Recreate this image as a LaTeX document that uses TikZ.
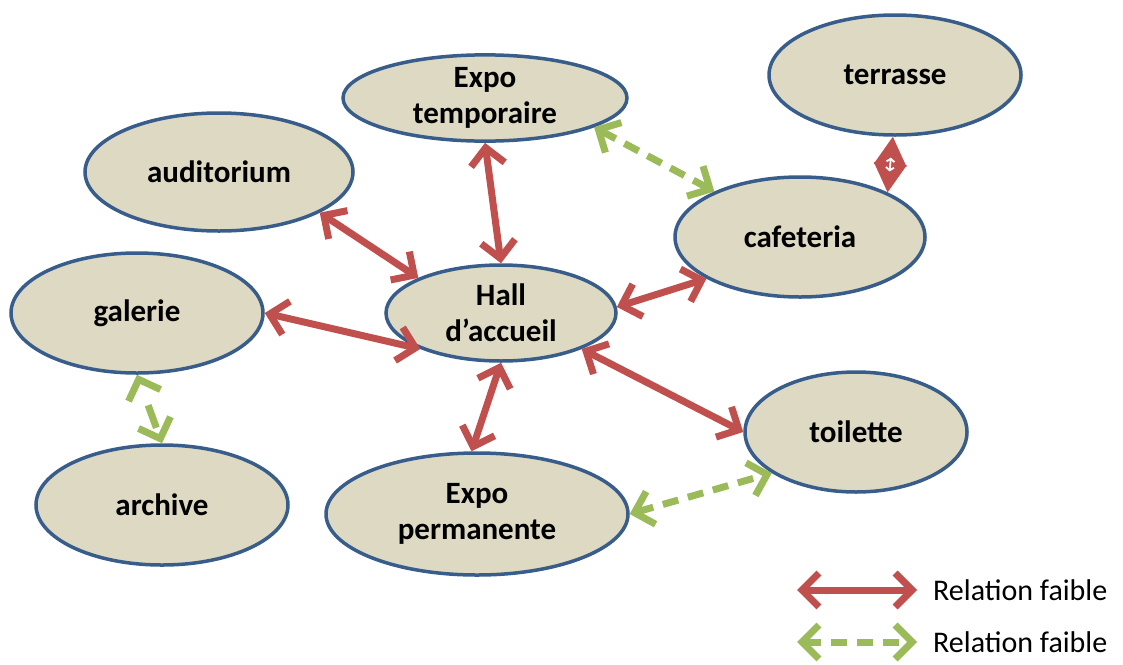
\documentclass[tikz,border=0pt]{standalone}
\usepackage{fontspec}
\setmainfont{Carlito}
\usepackage{xcolor}
\usetikzlibrary{arrows.meta}
\usetikzlibrary{shapes.geometric}

\definecolor{fondsalle}{HTML}{DDD9C3}
\definecolor{bordsalle}{HTML}{385D8A}
\definecolor{rouge}{HTML}{C0504D}
\definecolor{vert}{HTML}{9BBB59}

\tikzset{
	piece/.style={ellipse, draw=bordsalle, fill=fondsalle, line width=3.5pt, inner sep=0pt,
		align=center, font=\bfseries\fontsize{31}{36}\selectfont},
	forte/.style={draw=rouge, line width=7pt,
		{Straight Barb[length=17pt,width=34pt]}-{Straight Barb[length=17pt,width=34pt]}},
	faible/.style={draw=vert, line width=7pt, dash pattern=on 16pt off 10pt,
		{Straight Barb[length=17pt,width=34pt]}-{Straight Barb[length=17pt,width=34pt]}}
}

\begin{document}
\begin{tikzpicture}[x=1pt,y=-1pt]
	\useasboundingbox (0,0) rectangle (1123,664);

	% les salles
	\node[piece, minimum width=284pt, minimum height=70pt] (exptemp) at (485,98) {Expo\\temporaire};
	\node[piece, minimum width=252pt, minimum height=120pt] (terr) at (895,75) {terrasse};
	\node[piece, minimum width=268pt, minimum height=118pt] (audi) at (219,172) {auditorium};
	\node[piece, minimum width=250pt, minimum height=120pt] (cafe) at (800,237) {cafeteria};
	\node[piece, minimum width=252pt, minimum height=120pt] (gal) at (137,313) {galerie};
	\node[piece, minimum width=230pt, minimum height=96pt] (hall) at (501,313) {Hall\\d'accueil};
	\node[piece, minimum width=222pt, minimum height=120pt] (toil) at (856,432) {toilette};
	\node[piece, minimum width=252pt, minimum height=120pt] (arch) at (162,505) {archive};
	\node[piece, minimum width=302pt, minimum height=122pt] (expperm) at (477,514) {Expo\\permanente};

	% relations
	\draw[forte] (exptemp.south) -- (hall.north);
	\draw[forte] (audi.-22) -- (hall.157);
	\draw[forte] (gal.east) -- (hall.204);
	\draw[forte] (hall.3) -- (cafe.204);
	\draw[forte] (hall.-24) -- (toil.west);
	\draw[forte] (hall.south) -- (expperm.95);
	\draw[faible] (exptemp.-15) -- (cafe.152);
	\draw[faible, dash pattern=on 24pt off 48pt, dash phase=48pt] (gal.south) -- (arch.north);
	\draw[faible] (expperm.east) -- (toil.206);

	% terrasse - cafeteria
	\draw[draw=rouge, fill=rouge, line width=1pt,
		{Triangle[length=29pt,width=33pt]}-{Triangle[length=29pt,width=33pt]}] (terr.-92) -- (cafe.27);
	\draw[white, line width=1.8pt, shorten <=21pt, shorten >=21pt,
		{Straight Barb[length=3pt,width=8pt]}-{Straight Barb[length=3pt,width=8pt]}] (terr.-92) -- (cafe.27);

	% legende
	\coordinate (ra) at (797,590);
	\coordinate (rb) at (917,590);
	\coordinate (va) at (797,642);
	\coordinate (vb) at (917,642);
	\draw[forte] (ra) -- (rb);
	\draw[faible] (va) -- (vb);
	\node[anchor=west, inner sep=0pt, font=\fontsize{30}{36}\selectfont] (lrouge) at (933,590) {Relation faible};
	\node[anchor=west, inner sep=0pt, font=\fontsize{30}{36}\selectfont] (lvert) at (933,642) {Relation faible};
\end{tikzpicture}
\end{document}
